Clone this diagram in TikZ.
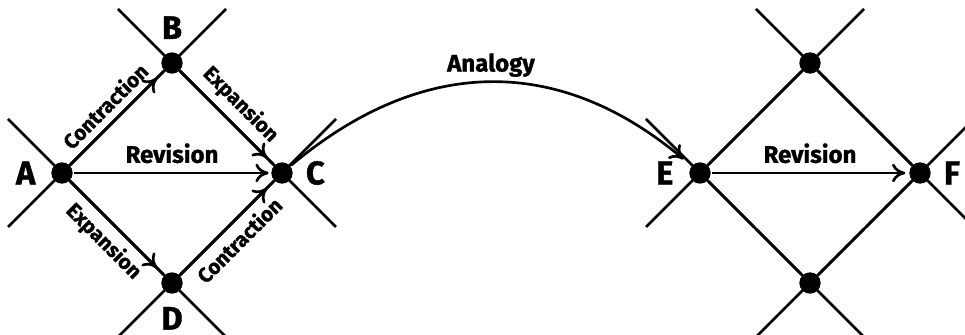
\documentclass[tikz,border=0pt]{standalone}
\usepackage{fontspec}
\setmainfont{Fira Sans}[BoldFeatures={FakeBold=1.2}]
\usetikzlibrary{arrows.meta, positioning}

\begin{document}
\begin{tikzpicture}[x=0.75pt,y=0.75pt,line width=2pt,
  dot/.style={circle, fill=black, inner sep=0pt, minimum size=16pt},
  letter/.style={inner sep=0pt, font=\fontsize{24.5}{27}\selectfont\bfseries},
  opname/.style={font=\fontsize{18}{20}\selectfont\bfseries},
  edgename/.style={font=\fontsize{15.5}{17}\selectfont\bfseries, sloped},
  move/.style={-{To[length=10pt,width=14pt]}, shorten >=7pt}]
\useasboundingbox (0,0) rectangle (965,335);
\clip (0,0) rectangle (965,335);
% points of the two lattices
\node[dot] (A) at (62,162) {};
\node[dot] (B) at (172,272) {};
\node[dot] (C) at (282,162) {};
\node[dot] (D) at (172,52) {};
\node[dot] (E) at (700,162) {};
\node[dot] (G) at (810,272) {};
\node[dot] (F) at (920,162) {};
\node[dot] (H) at (810,52) {};
% diagonal lines through every point
\foreach \p in {A,B,C,D,E,F,G,H}
  \draw (\p.center) +(-54,-54) -- +(54,54) +(-54,54) -- +(54,-54);
\draw (A) -- (B) -- (C) -- (D) -- (A);
\draw (E) -- (G) -- (F) -- (H) -- (E);
% moves
\draw[move] (A) -- node[edgename, above=2pt] {Contraction} (B);
\draw[move] (B) -- node[edgename, above=2pt] {Expansion} (C);
\draw[move] (A) -- node[edgename, below=2pt] {Expansion} (D);
\draw[move] (D) -- node[edgename, below=2pt] {Contraction} (C);
\draw[move, shorten >=1pt] (A) -- node[opname, above=3pt] {Revision} (C);
\draw[move, shorten >=2pt] (E) -- node[opname, above=3pt] {Revision} (F);
\draw[move] (C) to[out=40, in=140, looseness=1.1] node[opname, above] {Analogy} (E);
% names
\node[letter, left=10pt of A] {A};
\node[letter, above=8pt of B] {B};
\node[letter, right=8pt of C] {C};
\node[letter, below=8pt of D] {D};
\node[letter, left=10pt of E] {E};
\node[letter, right=8pt of F] {F};
\end{tikzpicture}
\end{document}
